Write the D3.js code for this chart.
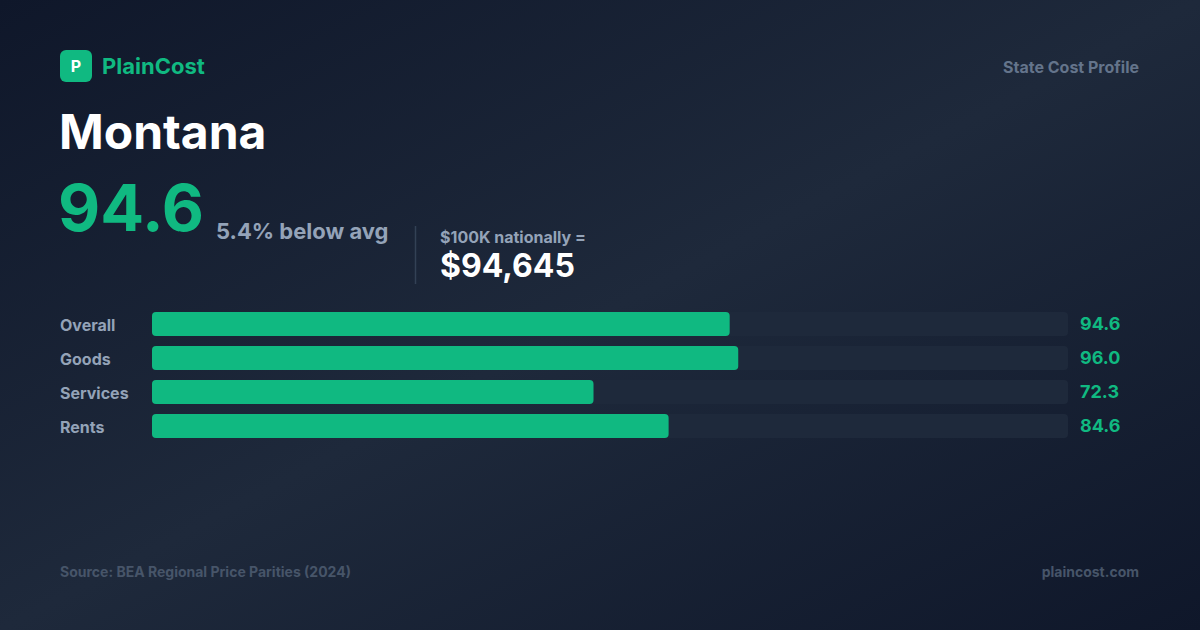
<!DOCTYPE html>
<html><head><meta charset="utf-8">
<script src="https://cdn.jsdelivr.net/npm/d3@7"></script>
<style>html,body{margin:0;padding:0;background:#0f172a;}svg{display:block;font-family:Inter,"Noto Sans",sans-serif;}</style>
</head><body>
<svg id="c" width="1200" height="630"></svg>
<script>
const categories = ["Overall", "Goods", "Services", "Rents"];
const values = [94.6, 96.0, 72.3, 84.6];
const stateName = "Montana";
const headline = 94.6;
const headlineNote = "5.4% below avg";
const equivLabel = "$100K nationally =";
const equivValue = "$94,645";
const scaleMax = 150;

const svg = d3.select("#c");
const defs = svg.append("defs");
const g = defs.append("linearGradient").attr("id","bg").attr("x1","0").attr("y1","0").attr("x2","1").attr("y2","1");
g.append("stop").attr("offset","0%").attr("stop-color","#0f172a");
g.append("stop").attr("offset","50%").attr("stop-color","#1e293b");
g.append("stop").attr("offset","100%").attr("stop-color","#0f172a");
svg.append("rect").attr("width",1200).attr("height",630).attr("fill","url(#bg)");

// logo
svg.append("rect").attr("x",60).attr("y",50).attr("width",32).attr("height",32).attr("rx",6).attr("fill","#10b981");
svg.append("text").attr("x",76).attr("y",72).attr("text-anchor","middle").attr("fill","#fff").attr("font-size",16).attr("font-weight",700).text("P");
svg.append("text").attr("x",102).attr("y",74).attr("fill","#10b981").attr("font-size",22).attr("font-weight",700).text("PlainCost");
svg.append("text").attr("x",1139).attr("y",73).attr("text-anchor","end").attr("fill","#64748b").attr("font-size",16).attr("font-weight",700).text("State Cost Profile");

svg.append("text").attr("x",59).attr("y",149).attr("fill","#ffffff").attr("font-size",48).attr("font-weight",700).text(stateName);
svg.append("text").attr("x",58).attr("y",231).attr("fill","#10b981").attr("font-size",65).attr("font-weight",700).text(headline.toFixed(1));
svg.append("text").attr("x",216).attr("y",239).attr("fill","#94a3b8").attr("font-size",22).attr("font-weight",700).text(headlineNote);
svg.append("line").attr("x1",415.5).attr("x2",415.5).attr("y1",226).attr("y2",284).attr("stroke","#334155").attr("stroke-width",1.5);
svg.append("text").attr("x",440).attr("y",243).attr("fill","#94a3b8").attr("font-size",16).attr("font-weight",700).text(equivLabel);
svg.append("text").attr("x",440).attr("y",277).attr("fill","#ffffff").attr("font-size",32).attr("font-weight",700).text(equivValue);

// bars
const x = d3.scaleLinear().domain([0, scaleMax]).range([152, 1068]);
const y = d3.scaleBand().domain(categories).range([312, 438]).paddingInner(10/34).paddingOuter(0);
const bh = y.bandwidth();
const rows = svg.append("g").selectAll("g").data(categories).join("g");
rows.append("rect").attr("x",x(0)).attr("y",d=>y(d)).attr("width",x(scaleMax)-x(0)).attr("height",bh).attr("rx",4).attr("fill","#1e293b");
rows.append("rect").attr("x",x(0)).attr("y",d=>y(d)).attr("width",(d,i)=>x(values[i])-x(0)).attr("height",bh).attr("rx",4).attr("fill","#10b981");
rows.append("text").attr("x",60).attr("y",d=>y(d)+19).attr("fill","#94a3b8").attr("font-size",16).attr("font-weight",700).text(d=>d);
rows.append("text").attr("x",1080).attr("y",d=>y(d)+18).attr("fill","#10b981").attr("font-size",18).attr("font-weight",700).text((d,i)=>values[i].toFixed(1));

svg.append("text").attr("x",60).attr("y",577).attr("fill","#475569").attr("font-size",14).attr("font-weight",700).text("Source: BEA Regional Price Parities (2024)");
svg.append("text").attr("x",1139).attr("y",577).attr("text-anchor","end").attr("fill","#475569").attr("font-size",14).attr("font-weight",700).text("plaincost.com");
</script>
</body></html>
